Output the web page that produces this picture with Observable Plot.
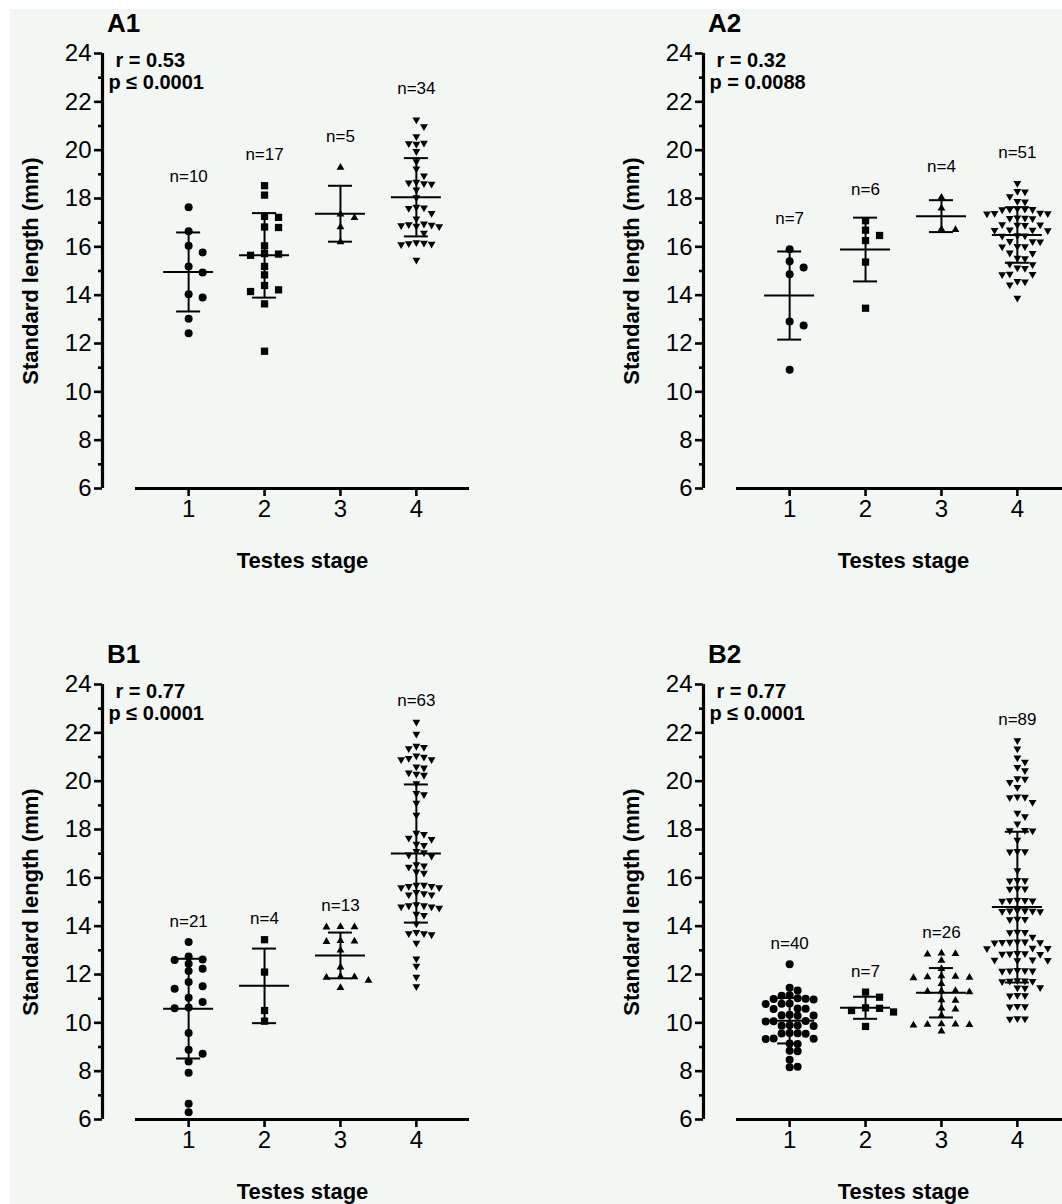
<!DOCTYPE html>
<html>
<head>
<meta charset="utf-8">
<script src="https://cdn.jsdelivr.net/npm/d3@7"></script>
<script src="https://cdn.jsdelivr.net/npm/@observablehq/plot@0.6"></script>
<style>
  html, body { margin: 0; padding: 0; background: #ffffff; overflow: hidden; }
  #root { position: relative; width: 1062px; height: 1204px; font-family: "Liberation Sans", Arial, sans-serif; color: #000; }
  #bg { position: absolute; left: 10px; top: 9px; right: 0; bottom: 0; background: #f3f7f4; }
  .plabel { position: absolute; font-weight: bold; font-size: 26px; line-height: 26px; }
</style>
</head>
<body>
<div id="root"><div id="bg"></div></div>
<script>
// ---------------- data ----------------
const stages = [1, 2, 3, 4];
const yMajorTicks = [6, 8, 10, 12, 14, 16, 18, 20, 22, 24];
const yMinorTicks = [7, 9, 11, 13, 15, 17, 19, 21, 23];
const panelIds = ["A1", "A2", "B1", "B2"];
const rLabels = ["r = 0.53", "r = 0.32", "r = 0.77", "r = 0.77"];
const pLabels = ["p \u2264 0.0001", "p = 0.0088", "p \u2264 0.0001", "p \u2264 0.0001"];
const yTitle = "Standard length (mm)";
const xTitle = "Testes stage";

// Panel A1
const a1Stage1 = [17.64, 16.64, 16.04, 15.77, 15.19, 14.94, 14.04, 13.90, 13.02, 12.42];
const a1Stage2 = [18.53, 18.14, 17.26, 17.22, 16.82, 16.80, 16.04, 15.72, 15.65, 15.70, 15.19, 14.84, 14.40, 14.22, 14.15, 13.64, 11.68];
const a1Stage3 = [19.28, 17.35, 17.20, 16.82, 16.20];
const a1Stage4 = [21.26, 20.98, 20.57, 20.30, 20.28, 20.25, 19.95, 19.53, 19.23, 18.94, 18.68, 18.65, 18.62, 18.60, 18.36, 18.04,
  17.65, 17.62, 17.60, 17.39, 17.16, 16.95, 16.92, 16.90, 16.88, 16.86, 16.84, 16.57, 16.18, 16.16, 16.14, 16.12, 16.10, 15.46];

// Panel A2
const a2Stage1 = [15.90, 15.40, 15.15, 14.87, 12.91, 12.75, 10.91];
const a2Stage2 = [17.08, 16.69, 16.47, 16.26, 15.37, 13.46];
const a2Stage3 = [18.04, 17.60, 16.73, 16.71];
const a2Stage4 = [18.63, 18.30, 18.28, 18.08, 17.89, 17.87, 17.58, 17.57, 17.56, 17.55, 17.54, 17.40, 17.39, 17.38, 17.37,
  17.20, 17.19, 17.18, 17.17, 16.92, 16.91, 16.90, 16.89, 16.71, 16.70, 16.69, 16.68, 16.47, 16.46, 16.45, 16.23, 16.22, 16.21,
  16.02, 16.01, 16.00, 15.75, 15.73, 15.54, 15.52, 15.29, 15.27, 15.13, 15.11, 14.88, 14.87, 14.86, 14.58, 14.56, 14.43, 13.88];

// Panel B1
const b1Stage1 = [13.34, 12.75, 12.62, 12.60, 12.44, 12.24, 12.14, 11.69, 11.51, 11.41, 11.04, 10.86, 10.63, 10.60, 9.58, 8.89, 8.72, 8.40, 7.93, 6.65, 6.30];
const b1Stage2 = [13.44, 12.10, 10.51, 10.07];
const b1Stage3 = [13.98, 13.97, 13.96, 13.40, 13.38, 13.36, 13.00, 12.30, 11.92, 11.90, 11.88, 11.75, 11.45];
const b1Stage4 = [22.45, 21.95, 21.45, 21.40, 21.35, 21.05, 21.00, 20.95, 20.90, 20.90, 20.60, 20.55, 20.35, 20.30, 20.25, 19.90,
  19.50, 19.45, 19.10, 18.60, 17.85, 17.80, 17.65, 17.60, 17.40, 17.35, 17.10, 17.05, 16.95, 16.90, 16.55, 16.50, 16.45, 16.25, 16.20,
  15.70, 15.70, 15.65, 15.65, 15.60, 15.60, 15.40, 15.35, 15.30, 15.30, 14.90, 14.85, 14.85, 14.80, 14.80, 14.75, 14.50, 14.45,
  14.10, 13.75, 13.70, 13.70, 13.65, 13.30, 12.65, 12.35, 11.90, 11.50];

// Panel B2
const b2Stage1 = [12.42, 11.45, 11.34, 11.14, 11.12, 11.02, 11.00, 10.99, 10.97, 10.80, 10.79, 10.78, 10.59, 10.58, 10.57, 10.33,
  10.31, 10.30, 10.29, 10.08, 10.07, 10.06, 9.90, 9.89, 9.88, 9.87, 9.58, 9.57, 9.56, 9.55, 9.35, 9.34, 9.33, 9.14, 9.12, 8.84,
  8.82, 8.47, 8.18, 8.16];
const b2Stage2 = [11.27, 11.06, 10.62, 10.60, 10.51, 10.45, 9.85];
const b2Stage3 = [12.88, 12.86, 12.84, 12.58, 12.24, 11.94, 11.92, 11.90, 11.88, 11.86, 11.62, 11.33, 11.31, 11.30, 11.28, 10.94,
  10.92, 10.60, 10.56, 10.30, 9.95, 9.94, 9.93, 9.92, 9.90, 9.65];
const b2Stage4 = [21.68, 21.34, 20.97, 20.79, 20.58, 20.44, 20.11, 20.09, 19.96, 19.75, 19.36, 19.34, 19.32, 19.13, 18.68, 18.54,
  18.24, 17.97, 17.96, 17.95, 17.57, 17.10, 17.09, 17.08, 16.30, 15.90, 15.89, 15.88, 15.56, 15.55, 15.54, 15.08, 15.07, 15.06,
  15.05, 15.04, 14.66, 14.65, 14.64, 14.63, 14.62, 14.61, 14.30, 14.29, 14.28, 13.76, 13.75, 13.74, 13.36, 13.35, 13.34, 13.33,
  13.32, 13.31, 13.10, 13.09, 13.08, 12.88, 12.87, 12.86, 12.85, 12.84, 12.61, 12.60, 12.59, 12.58, 12.18, 12.17, 12.16, 12.15,
  12.14, 11.75, 11.74, 11.73, 11.72, 11.71, 11.46, 11.45, 11.44, 11.14, 11.13, 11.12, 10.69, 10.68, 10.67, 10.18, 10.17, 10.16, 13.55];

const panelGroups = [
  [a1Stage1, a1Stage2, a1Stage3, a1Stage4],
  [a2Stage1, a2Stage2, a2Stage3, a2Stage4],
  [b1Stage1, b1Stage2, b1Stage3, b1Stage4],
  [b2Stage1, b2Stage2, b2Stage3, b2Stage4]
];

// ---------------- layout ----------------
const W = 470, H = 600;
const mLeft = 102, mTop = 53, mBottom = 112, mRight = 1;
const axisGap = 33;               // px between y-axis line and start of x-axis line
const xEnds = [0.3, 4.7];
const frameW = W - mLeft - mRight;
const xLeft = xEnds[0] - (xEnds[1] - xEnds[0]) * axisGap / (frameW - axisGap);
const kx = (frameW - axisGap) / (xEnds[1] - xEnds[0]);   // px per stage unit
const ky = (H - mTop - mBottom) / (24 - 6);              // px per mm
const panelPos = [[0, 0], [601, 0], [0, 631], [601, 631]];
const nLabelGap = [-31, -31, -21, -21];
const FONT = "Liberation Sans, Arial, sans-serif";

const triangleDown = {
  draw(context, size) {
    const s3 = Math.sqrt(3);
    const y = -Math.sqrt(size / (s3 * 3));
    context.moveTo(0, -y * 2);
    context.lineTo(-s3 * y, y);
    context.lineTo(s3 * y, y);
    context.closePath();
  }
};
const symbols = ["circle", "square", "triangle", triangleDown];
const radii = [4.0, 4.1, 2.9, 2.9];
const symW = [8.0, 7.6, 7.6, 7.6];

function swarm(values, stage, colPx, rowPx) {
  const pts = values.map(v => ({v, stage})).sort((a, b) => b.v - a.v);
  const placed = [];
  for (const p of pts) {
    const py = p.v * ky;
    for (let k = 0; k < 200; k++) {
      const off = k === 0 ? 0 : (k % 2 ? Math.ceil(k / 2) : -k / 2);
      const px = off * colPx;
      if (!placed.some(q => Math.abs(q.px - px) < colPx * 0.95 && Math.abs(q.py - py) < rowPx)) {
        p.px = px; p.py = py; p.x = stage + px / kx;
        placed.push(p);
        break;
      }
    }
  }
  return pts;
}

const root = document.getElementById("root");

panelGroups.forEach((groups, pi) => {
  const stats = groups.map((vals, i) => ({
    stage: stages[i],
    n: vals.length,
    mean: d3.mean(vals),
    sd: d3.deviation(vals),
    max: d3.max(vals)
  }));
  const meanHalf = 25 / kx, capHalf = 12 / kx;
  const dotMarks = groups.map((vals, i) => {
    const dense = vals.length >= 30;
    const col = dense ? symW[i] : 14;
    const pts = swarm(vals, stages[i], col, 7.2);
    return Plot.dot(pts, {x: "x", y: "v", symbol: symbols[i], r: radii[i], fill: "#000", stroke: "none"});
  });

  const chart = Plot.plot({
    width: W, height: H,
    marginLeft: mLeft, marginRight: mRight, marginTop: mTop, marginBottom: mBottom,
    x: {domain: [xLeft, xEnds[1]]},
    y: {domain: [6, 24]},
    style: {background: "transparent", fontFamily: FONT, fontSize: "24px", maxWidth: "none", overflow: "visible", color: "#000"},
    marks: [
      Plot.ruleX([xLeft], {y1: 6, y2: 24, strokeWidth: 3.2}),
      Plot.ruleY([6], {x1: xEnds[0], x2: xEnds[1], strokeWidth: 3.2}),
      Plot.axisY(yMinorTicks, {anchor: "left", tickSize: 4, strokeWidth: 2.6, fill: "none", label: null}),
      Plot.axisY(yMajorTicks, {anchor: "left", tickSize: 8, strokeWidth: 2.6, tickPadding: 3, fontSize: 24, label: null}),
      Plot.axisX(stages, {anchor: "bottom", tickSize: 8, strokeWidth: 2.6, tickPadding: 3, fontSize: 24, label: null}),
      ...dotMarks,
      Plot.ruleY(stats, {y: "mean", x1: d => d.stage - meanHalf, x2: d => d.stage + meanHalf, strokeWidth: 2}),
      Plot.ruleY(stats, {y: d => d.mean + d.sd, x1: d => d.stage - capHalf, x2: d => d.stage + capHalf, strokeWidth: 2}),
      Plot.ruleY(stats, {y: d => d.mean - d.sd, x1: d => d.stage - capHalf, x2: d => d.stage + capHalf, strokeWidth: 2}),
      Plot.ruleX(stats, {x: "stage", y1: d => d.mean - d.sd, y2: d => d.mean + d.sd, strokeWidth: 2}),
      Plot.text(stats, {x: "stage", y: "max", dy: nLabelGap[pi], text: d => `n=${d.n}`, fontSize: 17}),
      Plot.text([rLabels[pi]], {frameAnchor: "top-left", dx: 13, dy: 7, text: d => d, textAnchor: "start", lineAnchor: "middle", fontWeight: "bold", fontSize: 20}),
      Plot.text([pLabels[pi]], {frameAnchor: "top-left", dx: 6, dy: 29, text: d => d, textAnchor: "start", lineAnchor: "middle", fontWeight: "bold", fontSize: 20}),
      Plot.text([yTitle], {frameAnchor: "left", dx: -72, rotate: -90, text: d => d, textAnchor: "middle", lineAnchor: "middle", fontWeight: "bold", fontSize: 22}),
      Plot.text([xTitle], {x: (xEnds[0] + xEnds[1]) / 2, frameAnchor: "bottom", dy: 72, text: d => d, textAnchor: "middle", lineAnchor: "middle", fontWeight: "bold", fontSize: 22})
    ]
  });
  chart.style.position = "absolute";
  chart.style.left = panelPos[pi][0] + "px";
  chart.style.top = panelPos[pi][1] + "px";
  root.appendChild(chart);

  const lab = document.createElement("div");
  lab.className = "plabel";
  lab.textContent = panelIds[pi];
  lab.style.left = (panelPos[pi][0] + 107) + "px";
  lab.style.top = (panelPos[pi][1] + 10) + "px";
  root.appendChild(lab);
});
</script>
</body>
</html>
